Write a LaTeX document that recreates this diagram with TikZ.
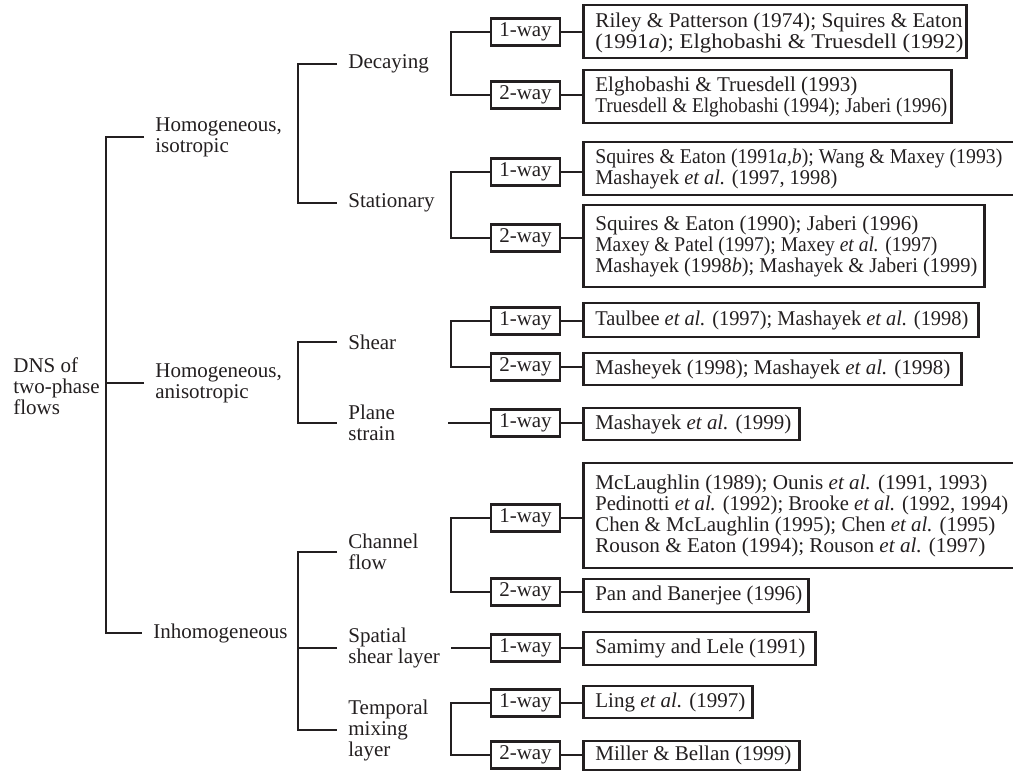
\documentclass[tikz,border=0pt]{standalone}
\usepackage{fontspec}
\usepackage{graphicx}
\setmainfont{Liberation Serif}
\usetikzlibrary{calc}
\definecolor{ink}{RGB}{35,31,32}
\newcommand{\fnt}{\fontsize{21}{21}\selectfont}
\newcommand{\fl}[2]{\resizebox{#1pt}{\height}{#2}}
\begin{document}
\begin{tikzpicture}[x=1pt,y=-1pt,color=ink,line width=2.7pt,
  lab/.style={font=\fnt,align=left,inner xsep=10pt,inner ysep=0pt,anchor=west},
  waybox/.style={draw,font=\fnt,minimum width=69pt,minimum height=27pt,inner sep=0pt},
  refbox/.style={draw,anchor=west,inner sep=0pt},
  reftext/.style={font=\fnt,align=left,anchor=west,inner sep=0pt}]
\clip (0,0) rectangle (1013,773);
\coordinate (b0) at (106,0);
\coordinate (b1) at (298,0);
\coordinate (b2) at (451,0);
% root and level 1
\node[lab,inner xsep=0pt] (root) at (12,386) {DNS of\\two-phase\\flows};
\node[lab] (hi) at (144,137) {Homogeneous,\\isotropic};
\node[lab] (ha) at (144,383) {Homogeneous,\\anisotropic};
\node[lab] (ih) at (142,633) {Inhomogeneous};
\draw (hi.west) -| (b0 |- ih.west) -- (ih.west);
\draw (ha.west) -- (b0 |- ha.west);
% level 2
\node[lab] (dec) at (337,64) {Decaying};
\node[lab] (sta) at (337,203) {Stationary};
\node[lab] (she) at (337,342) {Shear};
\node[lab] (pla) at (337,423) {Plane\\strain};
\node[lab] (cha) at (337,552) {Channel\\flow};
\node[lab] (spa) at (337,648) {Spatial\\shear layer};
\node[lab] (tem) at (337,730) {Temporal\\mixing\\layer};
\draw (dec.west) -| (b1 |- sta.west) -- (sta.west);
\draw (she.west) -| (b1 |- pla.west) -- (pla.west);
\draw (cha.west) -| (b1 |- tem.west) -- (tem.west);
\draw (spa.west) -- (b1 |- spa.west);
% coupling boxes
\node[waybox] (w1) at (525.5,32) {1-way};
\node[waybox] (w2) at (525.5,95) {2-way};
\node[waybox] (w3) at (525.5,172) {1-way};
\node[waybox] (w4) at (525.5,238) {2-way};
\node[waybox] (w5) at (525.5,321) {1-way};
\node[waybox] (w6) at (525.5,367) {2-way};
\node[waybox] (w7) at (525.5,423) {1-way};
\node[waybox] (w8) at (525.5,518) {1-way};
\node[waybox] (w9) at (525.5,592) {2-way};
\node[waybox] (w10) at (525.5,648) {1-way};
\node[waybox] (w11) at (525.5,703) {1-way};
\node[waybox] (w12) at (525.5,755) {2-way};
\draw (w1.west) -| (b2 |- w2.west) -- (w2.west);
\draw (w3.west) -| (b2 |- w4.west) -- (w4.west);
\draw (w5.west) -| (b2 |- w6.west) -- (w6.west);
\draw (w7.west) -- ([xshift=-3pt]b2 |- w7.west);
\draw (w8.west) -| (b2 |- w9.west) -- (w9.west);
\draw (w10.west) -- (b2 |- w10.west);
\draw (w11.west) -| (b2 |- w12.west) -- (w12.west);
% reference boxes
\node[refbox,minimum width=383pt,minimum height=53pt] (r1) at (582,31.5) {};
\node[refbox,minimum width=368pt,minimum height=53pt] (r2) at (582,96.5) {};
\node[refbox,minimum width=460pt,minimum height=53pt] (r3) at (582,168.5) {};
\node[refbox,minimum width=401pt,minimum height=82pt] (r4) at (582,246) {};
\node[refbox,minimum width=395pt,minimum height=34pt] (r5) at (582,320) {};
\node[refbox,minimum width=378pt,minimum height=32pt] (r6) at (582,369) {};
\node[refbox,minimum width=216pt,minimum height=32pt] (r7) at (582,424) {};
\node[refbox,minimum width=460pt,minimum height=105pt] (r8) at (582,515.5) {};
\node[refbox,minimum width=225pt,minimum height=33pt] (r9) at (582,595.5) {};
\node[refbox,minimum width=232pt,minimum height=33pt] (r10) at (582,648.5) {};
\node[refbox,minimum width=169pt,minimum height=32pt] (r11) at (582,702) {};
\node[refbox,minimum width=216pt,minimum height=29pt] (r12) at (582,755.5) {};
\node[reftext] (t1) at ($(r1.west)+(12,1)$) {\fl{367}{Riley \& Patterson (1974); Squires \& Eaton}\\\fl{368}{(1991\textit{a}); Elghobashi \& Truesdell (1992)}};
\node[reftext] (t2) at ($(r2.west)+(12,0)$) {\fl{262}{Elghobashi \& Truesdell (1993)}\\\fl{352}{Truesdell \& Elghobashi (1994); Jaberi (1996)}};
\node[reftext] (t3) at ($(r3.west)+(12,0)$) {\fl{407}{Squires \& Eaton (1991\textit{a,b}); Wang \& Maxey (1993)}\\\fl{242}{Mashayek \textit{et al.} (1997, 1998)}};
\node[reftext] (t4) at ($(r4.west)+(12,0)$) {\fl{323}{Squires \& Eaton (1990); Jaberi (1996)}\\\fl{342}{Maxey \& Patel (1997); Maxey \textit{et al.} (1997)}\\\fl{382}{Mashayek (1998\textit{b}); Mashayek \& Jaberi (1999)}};
\node[reftext] (t5) at ($(r5.west)+(12,0)$) {\fl{373}{Taulbee \textit{et al.} (1997); Mashayek \textit{et al.} (1998)}};
\node[reftext] (t6) at ($(r6.west)+(12,0)$) {\fl{355}{Masheyek (1998); Mashayek \textit{et al.} (1998)}};
\node[reftext] (t7) at ($(r7.west)+(12,0)$) {\fl{196}{Mashayek \textit{et al.} (1999)}};
\node[reftext] (t8) at ($(r8.west)+(12,0)$) {\fl{392}{McLaughlin (1989); Ounis \textit{et al.} (1991, 1993)}\\\fl{413}{Pedinotti \textit{et al.} (1992); Brooke \textit{et al.} (1992, 1994)}\\\fl{400}{Chen \& McLaughlin (1995); Chen \textit{et al.} (1995)}\\\fl{390}{Rouson \& Eaton (1994); Rouson \textit{et al.} (1997)}};
\node[reftext] (t9) at ($(r9.west)+(12,0)$) {\fl{207}{Pan and Banerjee (1996)}};
\node[reftext] (t10) at ($(r10.west)+(12,0)$) {\fl{210}{Samimy and Lele (1991)}};
\node[reftext] (t11) at ($(r11.west)+(12,0)$) {\fl{150}{Ling \textit{et al.} (1997)}};
\node[reftext] (t12) at ($(r12.west)+(12,0)$) {\fl{196}{Miller \& Bellan (1999)}};
% coupling to references
\foreach \i in {1,...,12} {\draw (w\i.east) -- (w\i.east -| r\i.west);}
\end{tikzpicture}
\end{document}
